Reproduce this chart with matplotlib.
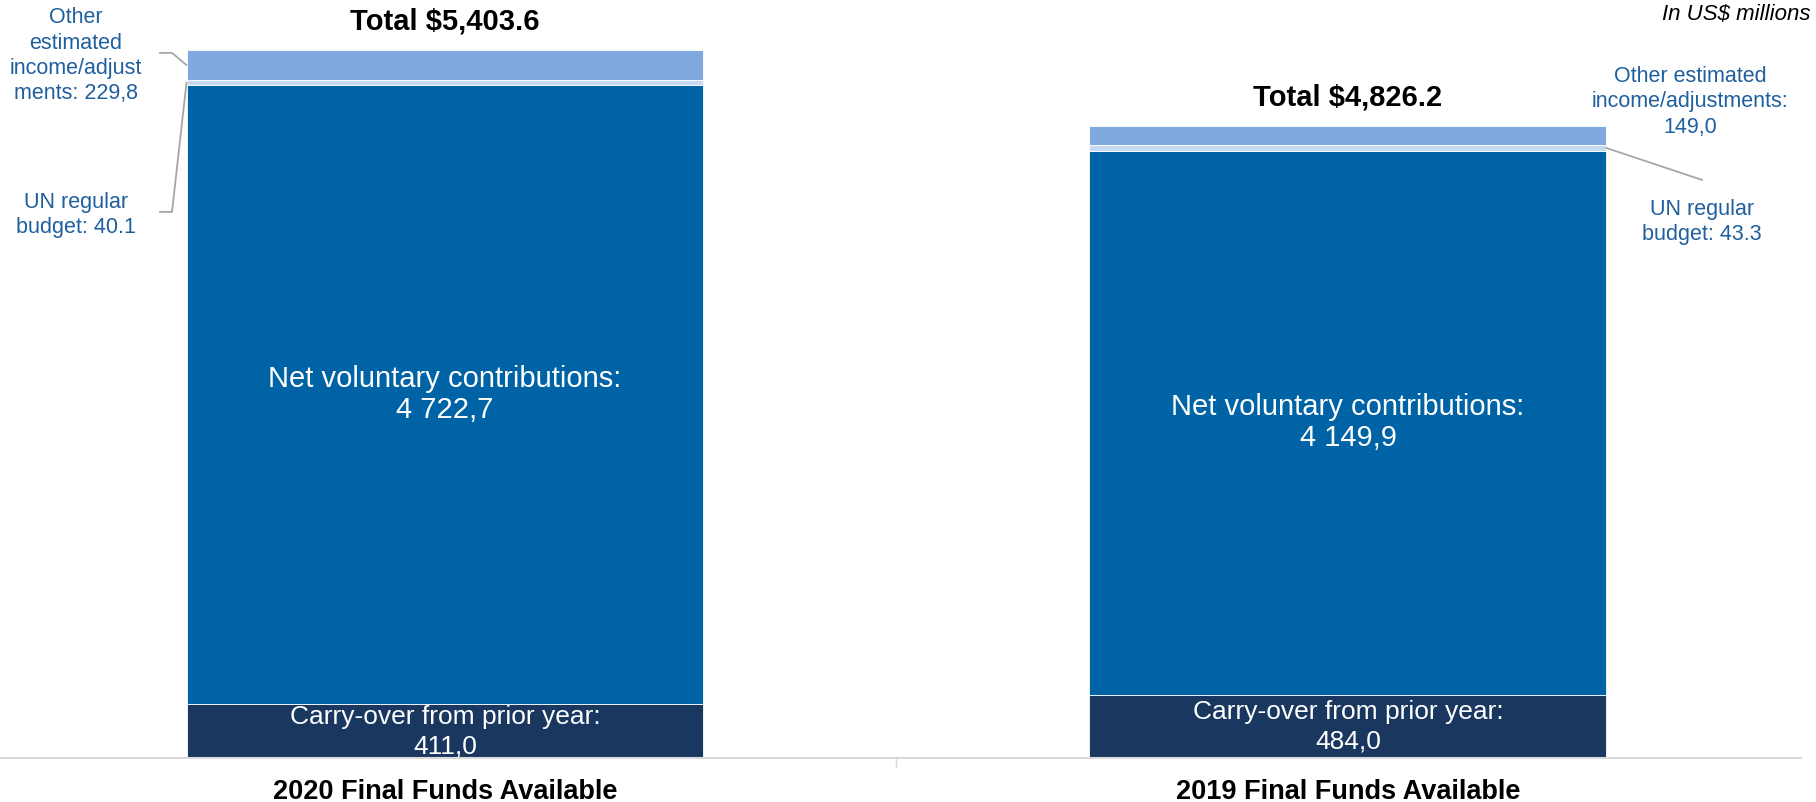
import numpy as np
import matplotlib
matplotlib.use("Agg")
import matplotlib.pyplot as plt

plt.rcParams['font.family'] = ['Liberation Sans', 'DejaVu Sans']

# data (US$ millions)
categories = ["2020 Final Funds Available", "2019 Final Funds Available"]
carry_over = [411.0, 484.0]
net_voluntary = [4722.7, 4149.9]
un_regular = [40.1, 43.3]
other_income = [229.8, 149.0]
totals = ["Total $5,403.6", "Total $4,826.2"]
carry_txt = ["411,0", "484,0"]
net_txt = ["4 722,7", "4 149,9"]
un_txt = ["40.1", "43.3"]
other_txt = ["229,8", "149,0"]

c_navy = "#19375f"
c_mid = "#0063a6"
c_band = "#c6dbf2"
c_top = "#80aadf"
c_lab = "#1f5f9e"
c_lead = "#a6a6a6"

fig = plt.figure(figsize=(18.16, 8.02), dpi=100)
ax = fig.add_axes([0, 44 / 802, 1801 / 1816, 758 / 802])

x = np.arange(len(categories))
w = 0.5725
b1 = np.array(carry_over)
b2 = b1 + np.array(net_voluntary)
b3 = b2 + np.array(un_regular)
tot = b3 + np.array(other_income)

kw = dict(width=w, edgecolor="white", linewidth=0.6)
ax.bar(x, carry_over, color=c_navy, **kw)
ax.bar(x, net_voluntary, bottom=b1, color=c_mid, **kw)
ax.bar(x, un_regular, bottom=b2, color=c_band, **kw)
ax.bar(x, other_income, bottom=b3, color=c_top, **kw)

ax.set_xlim(-0.4928, 1.5017)
ax.set_ylim(0, 5785)

for s in ["top", "right", "left"]:
    ax.spines[s].set_visible(False)
ax.spines["bottom"].set_color("#d9d9d9")
ax.spines["bottom"].set_linewidth(1.5)
ax.set_yticks([])
ax.set_xticks([0.5])
ax.set_xticklabels([""])
ax.tick_params(axis="x", which="major", length=7, color="#d9d9d9", width=1)
ax.set_xticks(x, minor=True)
ax.set_xticklabels(categories, minor=True, fontsize=19.5, fontweight="bold")
ax.tick_params(axis="x", which="minor", length=0, pad=15)

# labels inside bars
for i in range(len(x)):
    ax.text(x[i], (b1[i] + b2[i]) / 2, "Net voluntary contributions:\n" + net_txt[i],
            ha="center", va="center", color="white", fontsize=21, linespacing=1.13)
    ax.text(x[i], carry_over[i] / 2 - 5, "Carry-over from prior year:\n" + carry_txt[i],
            ha="center", va="center", color="white", fontsize=19, linespacing=1.32)
    ax.text(x[i], tot[i] + 215, totals[i], ha="center", va="center",
            fontsize=21, fontweight="bold")

# side annotations (2020 left, 2019 right)
left = x[0] - w / 2
right = x[1] + w / 2
ax.text(-0.4086, 5358, "Other\nestimated\nincome/adjust\nments: " + other_txt[0],
        ha="center", va="center", color=c_lab, fontsize=15.5, linespacing=1.27)
ax.plot([-0.3156, -0.3023, left], [5381, 5381, b3[0] + other_income[0] / 2],
        color=c_lead, lw=1.3, clip_on=False)

ax.text(-0.4086, 4145, "UN regular\nbudget: " + un_txt[0],
        ha="center", va="center", color=c_lab, fontsize=15.5, linespacing=1.27)
ax.plot([left, -0.3023, -0.3156], [b2[0] + un_regular[0] / 2, 4168, 4168],
        color=c_lead, lw=1.3, clip_on=False)

ax.text(1.379, 5008, "Other estimated\nincome/adjustments:\n" + other_txt[1],
        ha="center", va="center", color=c_lab, fontsize=15.5, linespacing=1.27)
ax.text(1.392, 4092, "UN regular\nbudget: " + un_txt[1],
        ha="center", va="center", color=c_lab, fontsize=15.5, linespacing=1.27)
ax.plot([right, 1.392], [b2[1] + un_regular[1] / 2, 4412],
        color=c_lead, lw=1.3, clip_on=False)

fig.text(1810 / 1816, 1 - 14 / 802, "In US$ millions", ha="right", va="center",
         fontsize=16, fontstyle="italic")

fig.savefig("out.png", dpi=100)
